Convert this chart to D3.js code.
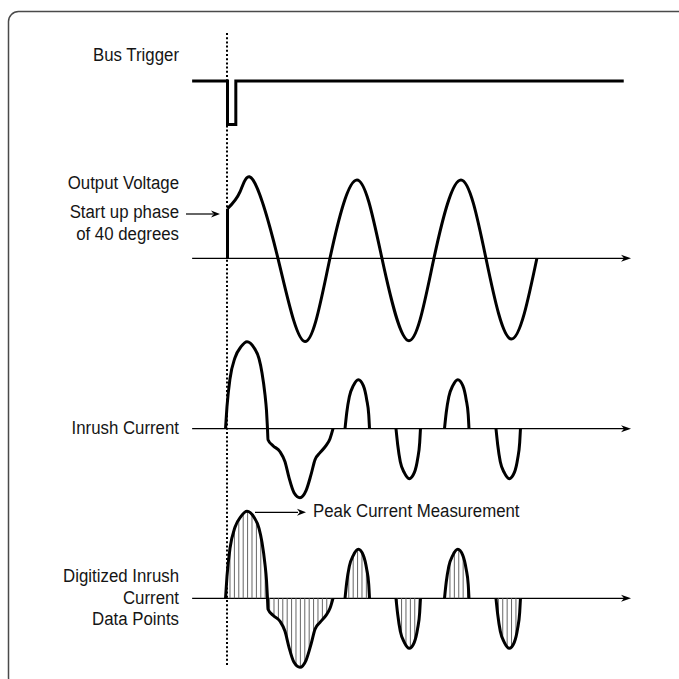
<!DOCTYPE html>
<html><head><meta charset="utf-8">
<script src="https://cdn.jsdelivr.net/npm/d3@7"></script>
<style>
body{margin:0;background:#fff}
svg{display:block}
text{font-family:"Liberation Sans","Arial",sans-serif;font-size:19px;fill:#151515}
</style>
</head><body>
<svg id="chart" width="679" height="679"></svg>
<script>
// ---------------- data (time in ms, 20 ms per mains cycle) ----------------
const busTime  = [-6.8, 0, 0, 1.6, 1.6, 76.2];
const busLevel = [1, 1, 0, 0, 1, 1];

const voltStepTime  = [0, 0];
const voltStepValue = [0, 0.62];
const voltTime  = [0, 2.4, 4.9, 9.7, 14.9, 19.7, 24.9, 29.7, 34.9, 39.7, 44.9, 49.7, 54.6, 59.5];
const voltValue = [0.62, 0.83, 0.98, 0, -1.04, 0, 0.98, 0, -1.03, 0, 0.98, 0, -1.01, 0];

// inrush current (A)
const inrushMainTime  = [-0.38, -0.1, 0.48, 1.44, 2.6, 3.75, 5.1, 6.06, 6.63, 7.21, 7.5, 7.69,
                         7.79, 8.75, 10.1, 11.06, 11.83, 12.79, 13.94, 15.1, 16.06, 16.83, 17.79, 18.94, 19.71, 20.29];
const inrushMainValue = [0, 2.2, 5.0, 7.1, 8.2, 8.7, 8.1, 7.0, 5.6, 3.4, 1.8, 0,
                         -1.1, -1.7, -2.3, -3.3, -4.9, -6.4, -6.9, -6.2, -4.6, -3.1, -2.4, -1.7, -1.0, 0];
const inrushLobe2Time  = [22.6, 22.93, 23.43, 24.2, 25.16, 26.12, 26.77, 27.16, 27.31];
const inrushLobe2Value = [0, 1.6, 3.2, 4.3, 4.9, 4.3, 2.9, 1.4, 0];
const inrushLobe3Time  = [32.4, 32.73, 33.23, 34.0, 34.96, 35.92, 36.57, 36.96, 37.11];
const inrushLobe3Value = [0, -1.6, -3.3, -4.4, -5.0, -4.4, -3.0, -1.4, 0];
const inrushLobe4Time  = [41.73, 42.06, 42.56, 43.33, 44.29, 45.25, 45.9, 46.29, 46.44];
const inrushLobe4Value = [0, 1.6, 3.2, 4.3, 4.9, 4.3, 2.9, 1.4, 0];
const inrushLobe5Time  = [51.63, 51.96, 52.46, 53.23, 54.19, 55.15, 55.8, 56.19, 56.34];
const inrushLobe5Value = [0, -1.6, -3.3, -4.4, -5.0, -4.4, -3.0, -1.4, 0];

const sampleStart = 0.48, sampleInterval = 0.846;
const axisStart = -6.8, axisEnd = 77.6;

const rowLabels = [
  {lines: ["Bus Trigger"], y: 61},
  {lines: ["Output Voltage"], y: 189},
  {lines: ["Start up phase", "of 40 degrees"], y: 218},
  {lines: ["Inrush Current"], y: 434},
  {lines: ["Digitized Inrush", "Current", "Data Points"], y: 582}
];
const peakLabel = "Peak Current Measurement";

// ---------------- drawing ----------------
const svg = d3.select("#chart");
const x = d3.scaleLinear().domain([0, 20]).range([227.5, 331.5]);
const zip = (t, v) => t.map((d, i) => [d, v[i]]);
const narrow = 0.885;

svg.append("rect").attr("x", 8.5).attr("y", 11.5).attr("width", 800).attr("height", 676)
  .attr("rx", 10).attr("fill", "none").attr("stroke", "#4a4a4a").attr("stroke-width", 1.5);

// dotted trigger line
svg.append("line").attr("x1", x(0) - 0.5).attr("x2", x(0) - 0.5).attr("y1", 33).attr("y2", 666)
  .attr("stroke", "#000").attr("stroke-width", 2).attr("stroke-dasharray", "2,2.2");

// labels (condensed look via horizontal scale)
rowLabels.forEach(l => {
  l.lines.forEach((s, i) => svg.append("text")
    .attr("transform", `translate(179,${l.y + i * 21.5}) scale(${narrow},1)`)
    .attr("text-anchor", "end").text(s));
});

function arrowHead(xt, y, len, half) {
  svg.append("path")
    .attr("d", `M${xt},${y}L${xt - len},${y - half}L${xt - len * 0.7},${y}L${xt - len},${y + half}Z`)
    .attr("fill", "#000");
}
function timeAxis(yBase) {
  svg.append("line").attr("x1", x(axisStart)).attr("x2", x(axisEnd) - 3).attr("y1", yBase).attr("y2", yBase)
    .attr("stroke", "#000").attr("stroke-width", 1.3);
  arrowHead(x(axisEnd), yBase, 10, 3.5);
}

// bus trigger
const yB = d3.scaleLinear().domain([0, 1]).range([124.5, 81]);
svg.append("path").datum(zip(busTime, busLevel))
  .attr("d", d3.line().x(d => x(d[0])).y(d => yB(d[1])))
  .attr("fill", "none").attr("stroke", "#000").attr("stroke-width", 3).attr("stroke-linejoin", "miter");

// output voltage
const vBase = 258.3;
const yV = d3.scaleLinear().domain([-1, 1]).range([vBase + 80, vBase - 80]);
timeAxis(vBase);
svg.append("path").datum(zip(voltStepTime, voltStepValue))
  .attr("d", d3.line().x(d => x(d[0])).y(d => yV(d[1])))
  .attr("fill", "none").attr("stroke", "#000").attr("stroke-width", 3);
svg.append("path").datum(zip(voltTime, voltValue))
  .attr("d", d3.line().x(d => x(d[0])).y(d => yV(d[1])).curve(d3.curveNatural))
  .attr("fill", "none").attr("stroke", "#000").attr("stroke-width", 3).attr("stroke-linejoin", "round");
// start-up arrow
svg.append("line").attr("x1", 186).attr("x2", 213).attr("y1", 214).attr("y2", 214).attr("stroke", "#000").attr("stroke-width", 1.2);
arrowHead(220, 214, 9, 3.5);

// current panels
const lobes = [
  zip(inrushMainTime, inrushMainValue),
  zip(inrushLobe2Time, inrushLobe2Value),
  zip(inrushLobe3Time, inrushLobe3Value),
  zip(inrushLobe4Time, inrushLobe4Value),
  zip(inrushLobe5Time, inrushLobe5Value)
];
function currentPanel(yBase, hatch, id) {
  const yI = d3.scaleLinear().domain([-10, 10]).range([yBase + 100, yBase - 100]);
  timeAxis(yBase);
  if (hatch) {
    const area = d3.area().x(d => x(d[0])).y0(yI(0)).y1(d => yI(d[1])).curve(d3.curveMonotoneX);
    const cp = svg.append("clipPath").attr("id", id);
    lobes.forEach(l => cp.append("path").attr("d", area(l)));
    const samples = d3.range(sampleStart, 57, sampleInterval);
    svg.append("g").attr("clip-path", `url(#${id})`).selectAll("line").data(samples).join("line")
      .attr("x1", d => x(d)).attr("x2", d => x(d)).attr("y1", yBase - 100).attr("y2", yBase + 100)
      .attr("stroke", "#666").attr("stroke-width", 1);
  }
  const line = d3.line().x(d => x(d[0])).y(d => yI(d[1])).curve(d3.curveMonotoneX);
  lobes.forEach(l => svg.append("path").attr("d", line(l))
    .attr("fill", "none").attr("stroke", "#000").attr("stroke-width", 3).attr("stroke-linejoin", "round"));
  return yI;
}
currentPanel(428.7, false, "c1");
const yD = currentPanel(598.3, true, "c2");

// peak current measurement arrow
const peakIdx = inrushMainValue.indexOf(d3.max(inrushMainValue));
const py = yD(inrushMainValue[peakIdx]) + 1;
svg.append("line").attr("x1", 255).attr("x2", 298).attr("y1", py).attr("y2", py).attr("stroke", "#000").attr("stroke-width", 1.2);
arrowHead(306, py, 9, 3.5);
svg.append("text").attr("transform", `translate(313,517) scale(${narrow},1)`).text(peakLabel);
</script>
</body></html>
